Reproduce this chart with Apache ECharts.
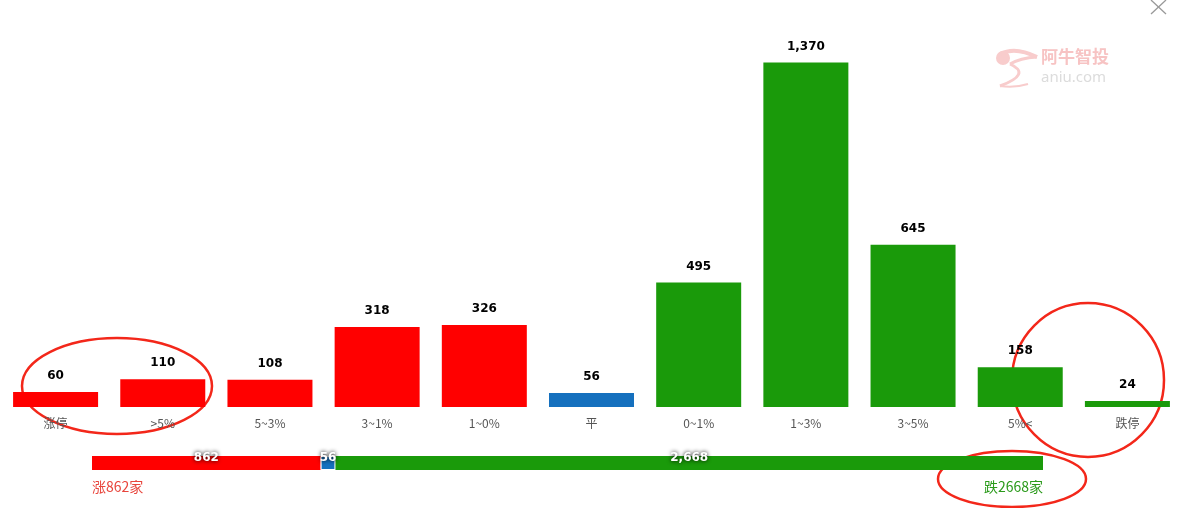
<!DOCTYPE html>
<html><head><meta charset="utf-8">
<script src="https://cdn.jsdelivr.net/npm/echarts@6/dist/echarts.min.js"></script>
<style>html,body{margin:0;padding:0;background:#fff}#c{width:1186px;height:508px}</style>
</head><body><div id="c"></div>
<script>
var categories = ['涨停', '>5%', '5~3%', '3~1%', '1~0%', '平', '0~1%', '1~3%', '3~5%', '5%<', '跌停'];
var values = [60, 110, 108, 318, 326, 56, 495, 1370, 645, 158, 24];
var barColors = ['#ff0000','#ff0000','#ff0000','#ff0000','#ff0000','#1570be','#1a9a0a','#1a9a0a','#1a9a0a','#1a9a0a','#1a9a0a'];
var upCount = [862];
var flatCount = [56];
var downCount = [2668];
var upText = '涨862家';
var downText = '跌2668家';

var RED = '#ff0000', BLUE = '#1570be', GREEN = '#1a9a0a';
var total = upCount[0] + flatCount[0] + downCount[0];
var chart = echarts.init(document.getElementById('c'));
var stackLabel = {
  show: true, position: 'insideTop', offset: [0, -9],
  color: '#fff', fontWeight: 'bold', fontSize: 12, fontFamily: 'DejaVu Sans',
  textShadowColor: '#000', textShadowBlur: 4,
  formatter: function (p) { return p.value.toLocaleString('en-US'); }
};
chart.setOption({
  animation: false,
  grid: [
    { left: 2, right: 5, top: 55, bottom: 101 },
    { left: 92, right: 143, top: 456, height: 14 }
  ],
  xAxis: [
    { type: 'category', gridIndex: 0, data: categories,
      axisLine: { show: false }, axisTick: { show: false },
      axisLabel: { color: '#555', fontSize: 12, margin: 10, fontFamily: 'Noto Sans CJK SC' } },
    { type: 'value', gridIndex: 1, min: 0, max: total, show: false }
  ],
  yAxis: [
    { type: 'value', gridIndex: 0, min: 0, max: 1400, show: false },
    { type: 'category', gridIndex: 1, data: [''], show: false }
  ],
  series: [
    { type: 'bar', xAxisIndex: 0, yAxisIndex: 0, barWidth: 85,
      data: values.map(function (v, i) { return { value: v, itemStyle: { color: barColors[i] } }; }),
      label: { show: true, position: 'top', distance: 10, color: '#000', fontWeight: 'bold',
        fontSize: 12, fontFamily: 'DejaVu Sans',
        formatter: function (p) { return p.value.toLocaleString('en-US'); } } },
    { type: 'bar', xAxisIndex: 1, yAxisIndex: 1, stack: 's', barWidth: 14, data: upCount,
      itemStyle: { color: RED }, label: stackLabel },
    { type: 'bar', xAxisIndex: 1, yAxisIndex: 1, stack: 's', barWidth: 14, data: flatCount,
      itemStyle: { color: BLUE, borderColor: '#fff', borderWidth: 1 }, label: stackLabel },
    { type: 'bar', xAxisIndex: 1, yAxisIndex: 1, stack: 's', barWidth: 14, data: downCount,
      itemStyle: { color: GREEN }, label: stackLabel }
  ],
  graphic: [
    { type: 'text', left: 92, top: 480, style: { text: upText, fill: '#e8453c', fontSize: 14, fontFamily: 'Noto Sans CJK SC' } },
    { type: 'text', right: 143, top: 480, style: { text: downText, fill: '#2a9a1a', fontSize: 14, fontFamily: 'Noto Sans CJK SC' } },
    // watermark
    { type: 'text', left: 1041, top: 48, style: { text: '阿牛智投', fill: '#f7c3c3', fontSize: 17, fontWeight: 'bold', fontFamily: 'Noto Sans CJK SC' } },
    { type: 'text', left: 1041, top: 70, style: { text: 'aniu.com', fill: '#dcdcdc', fontSize: 15, fontFamily: 'Noto Sans' } },
    { type: 'circle', shape: { cx: 1003, cy: 58, r: 7 }, style: { fill: '#f8cccc' } },
    { type: 'bezierCurve', shape: { x1: 1000, y1: 54, cpx1: 1015, cpy1: 46, x2: 1037, y2: 57 }, style: { stroke: '#f8cccc', lineWidth: 4, fill: 'none' } },
    { type: 'bezierCurve', shape: { x1: 1037, y1: 57, cpx1: 1020, cpy1: 58, x2: 1010, y2: 64 }, style: { stroke: '#f8cccc', lineWidth: 3, fill: 'none' } },
    { type: 'bezierCurve', shape: { x1: 1010, y1: 64, cpx1: 1032, cpy1: 74, x2: 1000, y2: 86 }, style: { stroke: '#f8cccc', lineWidth: 3, fill: 'none' } },
    { type: 'bezierCurve', shape: { x1: 1000, y1: 86, cpx1: 1015, cpy1: 88, x2: 1028, y2: 84 }, style: { stroke: '#f8cccc', lineWidth: 2, fill: 'none' } },
    // close X
    { type: 'line', shape: { x1: 1151, y1: 0, x2: 1166, y2: 14 }, style: { stroke: '#999', lineWidth: 1.3 } },
    { type: 'line', shape: { x1: 1166, y1: 0, x2: 1151, y2: 14 }, style: { stroke: '#999', lineWidth: 1.3 } },
    // annotations
    { type: 'ellipse', shape: { cx: 117, cy: 386, rx: 95, ry: 48 }, style: { fill: 'none', stroke: '#f3271a', lineWidth: 2.5 } },
    { type: 'ellipse', shape: { cx: 1088, cy: 380, rx: 76, ry: 77 }, style: { fill: 'none', stroke: '#f3271a', lineWidth: 2.5 } },
    { type: 'ellipse', shape: { cx: 1012, cy: 479, rx: 74, ry: 28 }, style: { fill: 'none', stroke: '#f3271a', lineWidth: 2.5 } }
  ]
});
</script></body></html>
